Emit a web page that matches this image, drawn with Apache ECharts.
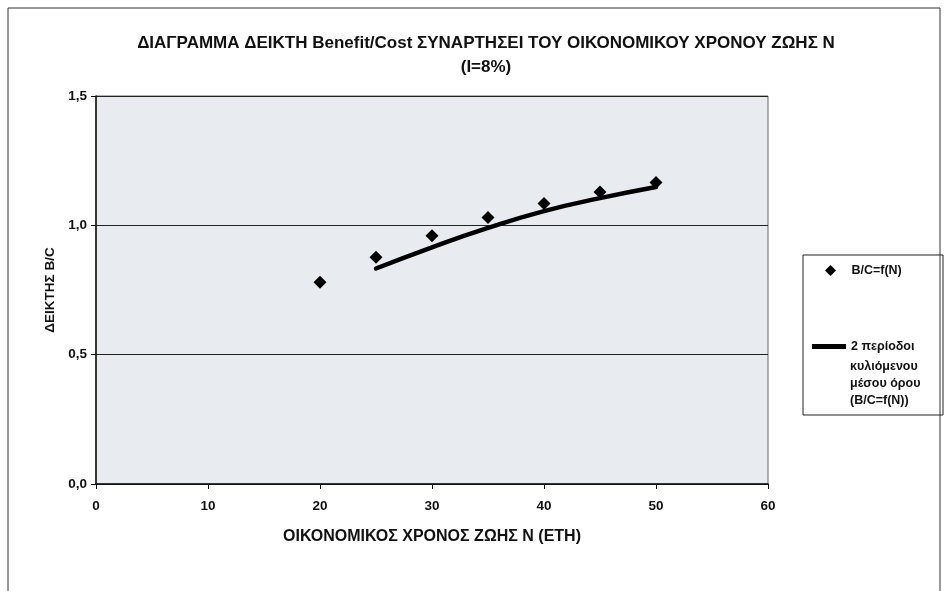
<!DOCTYPE html>
<html>
<head>
<meta charset="utf-8" />
<script src="https://cdn.jsdelivr.net/npm/echarts@6/dist/echarts.min.js"></script>
<style type="text/css">
	html, body, #main {
	width: 100%;
	height: 100%;
	margin: 0;
	background: #fff;
}
</style>
</head>
<body>
	<div id="main"></div>
	<script>
		// years of economic life N and the B/C index
		var years = [20, 25, 30, 35, 40, 45, 50];
		var bc = [0.78, 0.877, 0.96, 1.03, 1.084, 1.129, 1.166];
		// 2-period moving average, as drawn (starts at N=25)
		var maYears = [25, 30, 35, 40, 45, 50];
		var maValues = [0.833, 0.915, 0.99, 1.055, 1.105, 1.148];

		var font = 'Liberation Sans, Arial, sans-serif';
		var chart = echarts.init(document.getElementById('main'));

		var scatterData = years.map(function (n, i) { return [n, bc[i]]; });
		var lineData = maYears.map(function (n, i) { return [n, maValues[i]]; });

		var legendText = { fontFamily: font, fontSize: 12.5, fontWeight: 'bold', color: '#111' };

		var option = {
			animation: false,
			backgroundColor: '#fff',
			title: {
				text: 'ΔΙΑΓΡΑΜΜΑ ΔΕΙΚΤΗ Benefit/Cost ΣΥΝΑΡΤΗΣΕΙ ΤΟΥ ΟΙΚΟΝΟΜΙΚΟΥ ΧΡΟΝΟΥ ΖΩΗΣ Ν\n(Ι=8%)',
				left: 486,
				textAlign: 'center',
				top: 31,
				padding: 0,
				textStyle: {
					fontFamily: font,
					fontSize: 17,
					fontWeight: 'bold',
					color: '#111',
					lineHeight: 24
				}
			},
			legend: [{
				data: [{ name: 'B/C=f(N)', icon: 'diamond' }],
				orient: 'vertical',
				left: 825,
				top: 264,
				padding: 0,
				itemWidth: 11,
				itemHeight: 11,
				formatter: function (name) { return '   ' + name; },
				textStyle: legendText
			}, {
				data: [{ name: 'ma', icon: 'rect' }],
				orient: 'vertical',
				left: 812,
				top: 340,
				padding: 0,
				itemWidth: 34,
				itemHeight: 5,
				formatter: function () { return '2 περίοδοι'; },
				textStyle: legendText
			}],
			graphic: [{
				type: 'rect',
				shape: { x: 8, y: 8, width: 932, height: 600 },
				style: { fill: null, stroke: '#333', lineWidth: 1 },
				silent: true
			}, {
				type: 'rect',
				shape: { x: 803, y: 255, width: 140, height: 160 },
				style: { fill: '#fff', stroke: '#222', lineWidth: 1 },
				z: -1,
				silent: true
			}, {
				type: 'text',
				left: 850,
				top: 358,
				style: {
					text: 'κυλιόμενου\nμέσου όρου\n(B/C=f(N))',
					font: 'bold 12.5px ' + font,
					fill: '#111',
					lineHeight: 17
				},
				silent: true
			}],
			grid: {
				left: 96,
				right: 180,
				top: 96,
				bottom: 107,
				show: true,
				backgroundColor: '#e8ebf0',
				borderColor: '#666',
				borderWidth: 1
			},
			xAxis: {
				type: 'value',
				min: 0,
				max: 60,
				interval: 10,
				name: 'ΟΙΚΟΝΟΜΙΚΟΣ ΧΡΟΝΟΣ ΖΩΗΣ Ν (ΕΤΗ)',
				nameLocation: 'middle',
				nameGap: 45,
				nameTextStyle: { fontFamily: font, fontSize: 16, fontWeight: 'bold', color: '#111' },
				axisLine: { lineStyle: { color: '#111', width: 1.5 } },
				axisTick: { show: true, inside: false, length: 5, lineStyle: { color: '#111' } },
				axisLabel: { fontFamily: font, fontSize: 13.5, fontWeight: 'bold', color: '#111', margin: 15 },
				splitLine: { show: false }
			},
			yAxis: {
				type: 'value',
				min: 0,
				max: 1.5,
				interval: 0.5,
				name: 'ΔΕΙΚΤΗΣ Β/C',
				nameLocation: 'middle',
				nameGap: 30,
				nameRotate: 90,
				nameTextStyle: { fontFamily: font, fontSize: 13.5, fontWeight: 'bold', color: '#111' },
				axisLine: { show: true, lineStyle: { color: '#111', width: 1.5 } },
				axisTick: { show: true, inside: false, length: 5, lineStyle: { color: '#111' } },
				axisLabel: {
					fontFamily: font, fontSize: 13.5, fontWeight: 'bold', color: '#111', margin: 9,
					formatter: function (v) { return v.toFixed(1).replace('.', ','); }
				},
				splitLine: { show: true, lineStyle: { color: '#222', width: 1.2 } }
			},
			series: [{
				name: 'B/C=f(N)',
				type: 'scatter',
				symbol: 'diamond',
				symbolSize: 13,
				itemStyle: { color: '#000', opacity: 1 },
				data: scatterData,
				z: 3
			}, {
				name: 'ma',
				type: 'line',
				smooth: true,
				showSymbol: false,
				symbol: 'none',
				lineStyle: { color: '#000', width: 4.5, cap: 'round' },
				itemStyle: { color: '#000' },
				data: lineData,
				z: 2
			}]
		};

		chart.setOption(option);

		window.onresize = function () {
			chart.resize();
		};
	</script>
</body>
</html>
